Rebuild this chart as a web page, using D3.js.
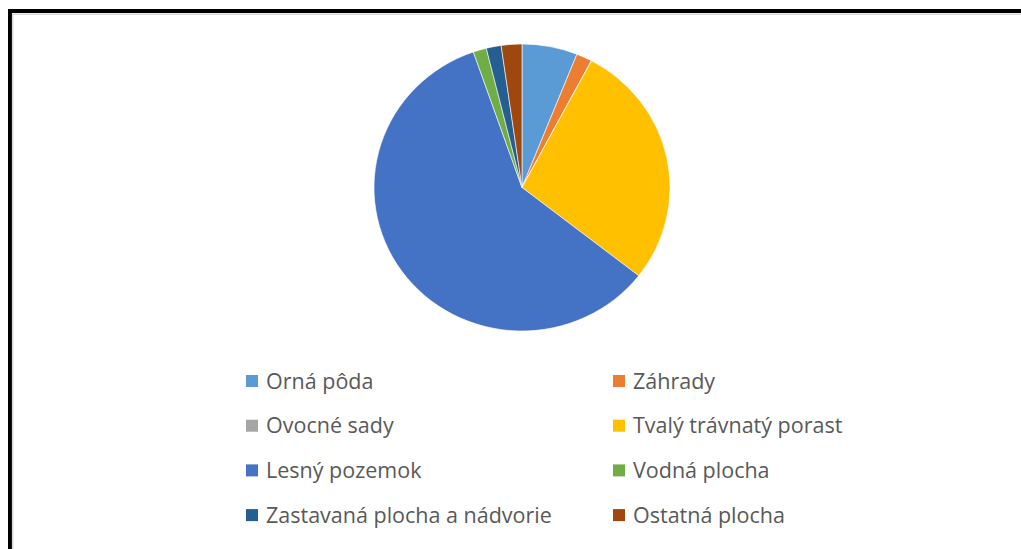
<!DOCTYPE html>
<html>
<head>
<meta charset="utf-8">
<script src="https://cdn.jsdelivr.net/npm/d3@7"></script>
<style>
  html, body { margin: 0; padding: 0; background: #fff; }
  svg { display: block; }
</style>
</head>
<body>
<div id="chart"></div>
<script>
// land use shares (%), clockwise from 12 o'clock
const categories = ["Orná pôda", "Záhrady", "Ovocné sady", "Tvalý trávnatý porast",
                    "Lesný pozemok", "Vodná plocha", "Zastavaná plocha a nádvorie", "Ostatná plocha"];
const shares = [6.05, 1.72, 0.02, 27.75, 59.13, 1.45, 1.63, 2.25];
const colors = ["#5B9BD5", "#ED7D31", "#A5A5A5", "#FFC000", "#4472C4", "#70AD47", "#255E91", "#9E480E"];

const W = 1021, H = 549;
const data = categories.map((c, i) => ({ name: c, value: shares[i], color: colors[i] }));

const svg = d3.select("#chart").append("svg")
    .attr("width", W)
    .attr("height", H);

// outer frame (thick black, thin grey inside)
svg.append("path")
    .attr("d", `M10,${H} V11 H${W}`)
    .attr("fill", "none")
    .attr("stroke", "#000")
    .attr("stroke-width", 4);
svg.append("path")
    .attr("d", `M12.7,${H} V14.2 H${W}`)
    .attr("fill", "none")
    .attr("stroke", "#d9d9d9")
    .attr("stroke-width", 1.6);

// pie
const cx = 522, cy = 187.5, rx = 148, ry = 143.5;
const pie = d3.pie().value(d => d.value).sort(null);
const arc = d3.arc().innerRadius(0).outerRadius(rx);

const g = svg.append("g")
    .attr("transform", `translate(${cx},${cy}) scale(1,${ry / rx})`);

g.selectAll("path")
    .data(pie(data))
    .join("path")
    .attr("d", arc)
    .attr("fill", d => d.data.color)
    .attr("stroke", "#fff")
    .attr("stroke-width", 0.6);

// legend, two columns
const colX = [246, 613];
const rowY = d3.range(4).map(i => 381 + i * 44.7);

const leg = svg.append("g");
const item = leg.selectAll("g")
    .data(data)
    .join("g")
    .attr("transform", (d, i) => `translate(${colX[i % 2]},${rowY[Math.floor(i / 2)]})`);

item.append("rect")
    .attr("x", 0)
    .attr("y", -6)
    .attr("width", 12)
    .attr("height", 12)
    .attr("fill", d => d.color);

item.append("text")
    .attr("x", 20)
    .attr("y", 0)
    .attr("dy", "0.35em")
    .attr("fill", "#595959")
    .style("font-family", "'Open Sans', sans-serif")
    .style("font-size", "21.5px")
    .text(d => d.name);
</script>
</body>
</html>
